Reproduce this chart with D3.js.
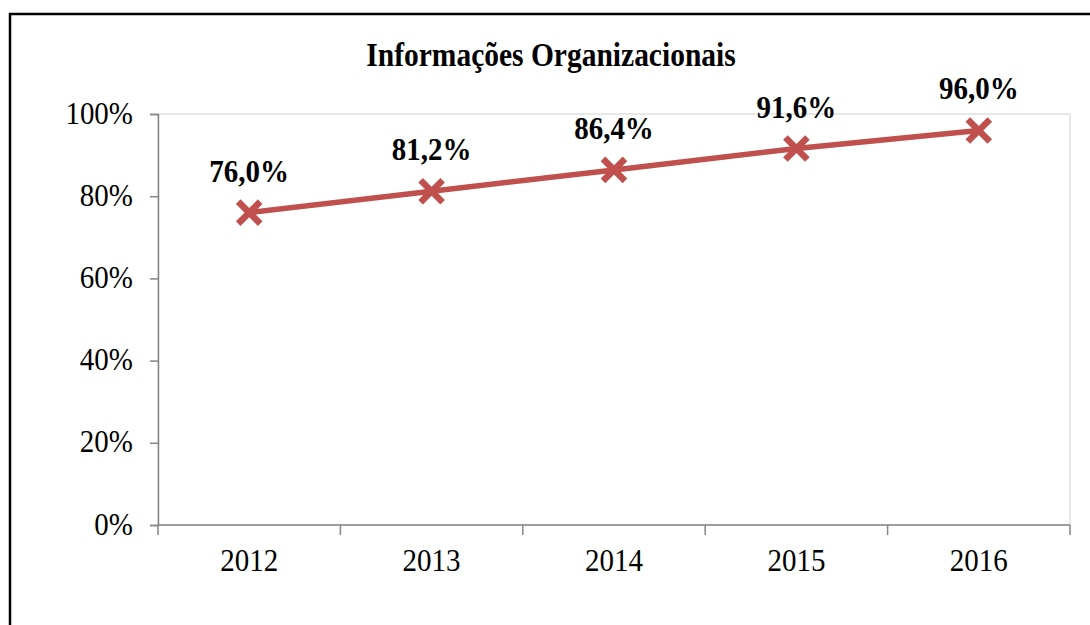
<!DOCTYPE html>
<html>
  <head>
    <meta charset="utf-8">
    <style>
      body { margin: 0; background: #fff; }
      text { font-family: "Liberation Serif", "Times New Roman", serif; fill: #000; }
      .axis text { font-size: 29px; }
      .lbl { font-size: 29px; font-weight: bold; }
      .title { font-size: 29.5px; font-weight: bold; }
    </style>
  </head>
  <body>
    <script src="https://d3js.org/d3.v7.min.js"></script>
    <script>
      // data
      var years = ["2012", "2013", "2014", "2015", "2016"];
      var values = [76.0, 81.2, 86.4, 91.6, 96.0];
      var yTicks = [0, 20, 40, 60, 80, 100];
      var title = "Informações Organizacionais";

      var W = 1090, H = 625;
      var margin = {top: 114, right: 20, bottom: 100, left: 158};
      var width = W - margin.left - margin.right,
          height = 525 - margin.top;
      var sy = 1.12; // the picture is a bit stretched vertically

      var svg = d3.select("body").append("svg")
          .attr("width", W).attr("height", H);

      // outer frame
      svg.append("rect")
          .attr("x", 10).attr("y", 14)
          .attr("width", W + 10).attr("height", H + 10)
          .attr("fill", "none").attr("stroke", "#000").attr("stroke-width", 2.5);

      var g = svg.append("g")
          .attr("transform", "translate(" + margin.left + "," + margin.top + ")");

      var x = d3.scaleBand().domain(years).range([0, width]);
      var y = d3.scaleLinear().domain([0, 100]).range([height, 0]);

      // plot area border
      g.append("rect")
          .attr("x", 0).attr("y", 0)
          .attr("width", width).attr("height", height)
          .attr("fill", "none").attr("stroke", "#d9d9d9").attr("stroke-width", 1.2);

      // y axis
      var yAxis = g.append("g").attr("class", "axis")
          .call(d3.axisLeft(y).tickValues(yTicks).tickSize(8)
                .tickFormat(function(d) { return d + "%"; }));
      yAxis.select(".domain").attr("stroke", "#868686").attr("stroke-width", 1.5);
      yAxis.selectAll(".tick line").attr("stroke", "#868686").attr("stroke-width", 1.5);
      yAxis.selectAll(".tick text")
          .attr("x", null).attr("dy", null)
          .attr("transform", "translate(-25,9) scale(1," + sy + ")");

      // x axis with ticks between categories
      var xg = g.append("g").attr("class", "axis")
          .attr("transform", "translate(0," + height + ")");
      xg.append("line").attr("x1", 0).attr("x2", width)
          .attr("stroke", "#868686").attr("stroke-width", 1.5);
      var edges = years.map(function(d) { return x(d); }).concat([width]);
      xg.selectAll(".xt").data(edges).enter().append("line")
          .attr("x1", function(d) { return d; }).attr("x2", function(d) { return d; })
          .attr("y1", 0).attr("y2", 10)
          .attr("stroke", "#868686").attr("stroke-width", 1.5);
      xg.selectAll(".xl").data(years).enter().append("text")
          .attr("text-anchor", "middle")
          .attr("transform", function(d) {
            return "translate(" + (x(d) + x.bandwidth() / 2) + ",46) scale(1," + sy + ")";
          })
          .text(function(d) { return d; });

      // line
      var pts = years.map(function(d, i) {
        return [x(d) + x.bandwidth() / 2, y(values[i])];
      });
      g.append("path")
          .attr("d", d3.line()(pts))
          .attr("fill", "none").attr("stroke", "#c0504d").attr("stroke-width", 5.5);

      // X markers
      var m = 11;
      var mk = g.selectAll(".mk").data(pts).enter().append("g")
          .attr("transform", function(d) { return "translate(" + d[0] + "," + d[1] + ")"; });
      mk.append("path")
          .attr("d", "M" + (-m) + "," + (-m) + "L" + m + "," + m + "M" + (-m) + "," + m + "L" + m + "," + (-m))
          .attr("stroke", "#c0504d").attr("stroke-width", 6.5).attr("fill", "none");

      // labels
      g.selectAll(".lbl").data(pts).enter().append("text")
          .attr("class", "lbl")
          .attr("text-anchor", "middle")
          .attr("transform", function(d) {
            return "translate(" + d[0] + "," + (d[1] - 31) + ") scale(1," + sy + ")";
          })
          .text(function(d, i) { return values[i].toFixed(1).replace(".", ",") + "%"; });

      // title
      svg.append("text").attr("class", "title")
          .attr("text-anchor", "middle")
          .attr("transform", "translate(551,66) scale(1," + sy + ")")
          .text(title);
    </script>
  </body>
</html>
